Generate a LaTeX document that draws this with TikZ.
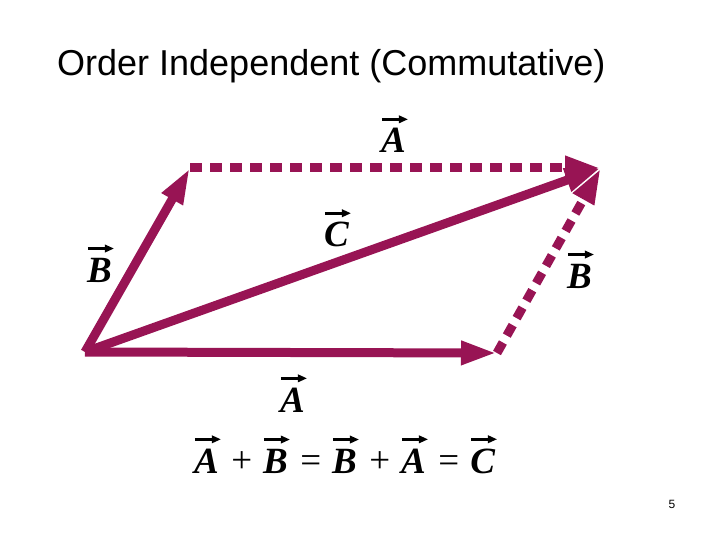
\documentclass[tikz,border=0pt]{standalone}
\usepackage{fontspec}
\setmainfont{Liberation Serif}
\newfontfamily\arialf{Liberation Sans}
\usetikzlibrary{arrows.meta}
\definecolor{vecc}{RGB}{152,20,84}
\newcommand\vl[1]{\tikz[baseline=(L.base)]{\node[inner sep=0pt,outer sep=0pt](L){\bfseries\itshape #1};
  \draw[line width=0.075em,-{Triangle[length=0.25em,width=0.2em]}] ([yshift=0.25em,xshift=0.02em]L.north west) -- ([yshift=0.25em,xshift=0.06em]L.north east);}}
\newcommand\op[1]{\hspace{0.24em}\raisebox{0.02em}{#1}\hspace{0.28em}}
\begin{document}
\begin{tikzpicture}[x=1pt,y=-1pt,
 vec/.style={line width=9pt, draw=vecc, -{Triangle[length=36pt,width=22pt]}},
 dvec/.style={vec, dash pattern=on 12pt off 8pt},
 lab/.style={font=\fontsize{37}{40}\selectfont, inner sep=0pt, anchor=base},
 eq/.style={font=\fontsize{37}{40}\selectfont, inner sep=0pt, anchor=base}]
\useasboundingbox (0,0) rectangle (720,540);
\node[font=\arialf\fontsize{36}{40}\selectfont, anchor=base west, inner sep=0pt] (title) at (57,76) {Order Independent (Commutative)};
\coordinate (O) at (85,352);
\coordinate (P) at (497,353);
\coordinate (Q) at (190,168);
\coordinate (R) at (601,168);
\draw[dvec] (Q) -- (R);
\draw[dvec] (P) -- (R);
\draw[vec] (O) -- (P);
\draw[vec] (O) -- (Q);
\draw[vec] (O) -- (R);
\node[lab] (la1) at (395,153) {\vl{A}};
\node[lab] (lc) at (338,247) {\vl{C}};
\node[lab] (lb1) at (101,282) {\vl{B}};
\node[lab] (lb2) at (581,288) {\vl{B}};
\node[lab] (la2) at (294,412) {\vl{A}};
\node[eq] (eqn) at (346,473) {\vl{A}\op{+}\vl{B}\op{=}\vl{B}\op{+}\vl{A}\op{=}\vl{C}};
\node[font=\arialf\fontsize{12}{14}\selectfont, anchor=base, inner sep=0pt] (pg) at (672,508) {5};
\end{tikzpicture}
\end{document}
